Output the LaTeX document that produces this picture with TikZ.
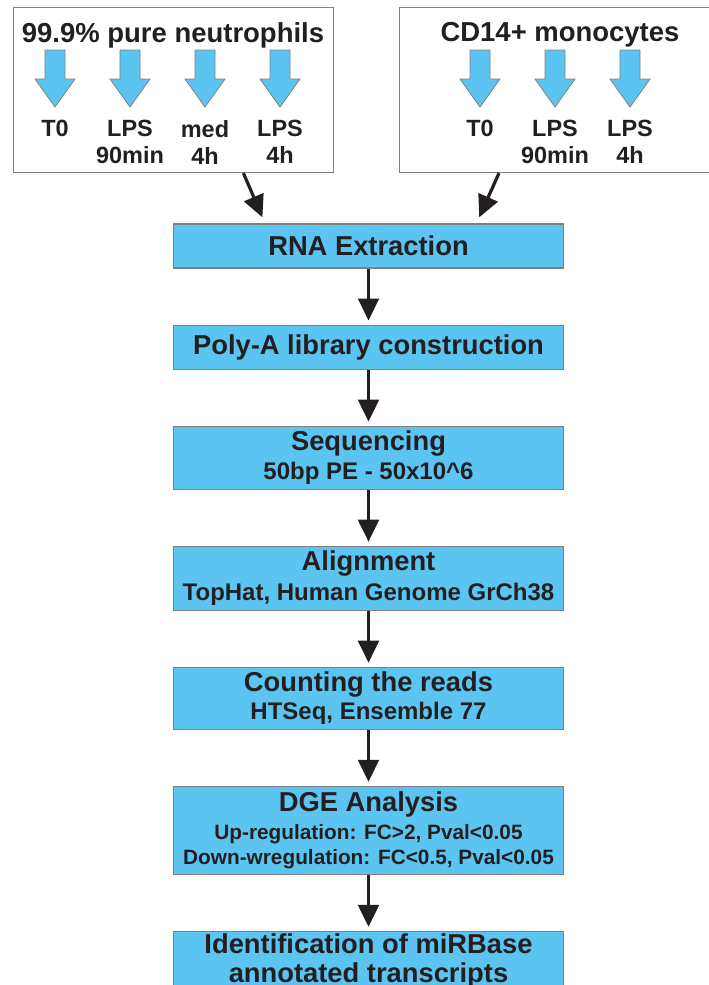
\documentclass[tikz,border=0pt]{standalone}
\usepackage{fontspec}
\setmainfont{Liberation Sans}
\usetikzlibrary{arrows.meta,positioning}
\definecolor{cellblue}{HTML}{5BC4F1}
\definecolor{inkdark}{HTML}{231F20}
\definecolor{edgegray}{HTML}{808080}
\newcommand\subtxt{\fontsize{18}{20}\selectfont}
\newcommand\dgetxt{\fontsize{15.6}{18}\selectfont}

\begin{document}
\begin{tikzpicture}[
x=0.75pt,y=-0.75pt,
node distance=42pt,
group/.style={draw=edgegray,line width=0.8pt,fill=white,anchor=north west,
minimum width=240pt,minimum height=123.75pt,inner sep=0pt},
grouptitle/.style={font=\fontsize{20.6}{24}\selectfont\bfseries,text=inkdark,
anchor=north,inner sep=0pt},
cond/.style={font=\fontsize{17.6}{20.25}\selectfont\bfseries,text=inkdark,
align=center,anchor=north,inner sep=0pt},
proc/.style={draw=edgegray,line width=0.8pt,fill=cellblue,text=inkdark,align=center,
font=\fontsize{20.5}{20}\selectfont\bfseries,
minimum width=293pt,minimum height=33pt,inner sep=0pt},
dep/.style={-{Triangle[width=15.5pt,length=16.5pt]},line width=2.4pt,draw=inkdark,
shorten >=3pt},
cellarrow/.pic={\filldraw[fill=cellblue,draw=edgegray,line width=0.6pt]
(-10,0) -- (10,0) -- (10,29) -- (20,29) -- (0,57) -- (-20,29) -- (-10,29) -- cycle;}
]
\useasboundingbox (0,0) rectangle (709,985);
\clip (0,0) rectangle (709,985);

% cell populations
\node[group] (neut) at (13,7) {};
\node[group] (mono) at (399,7) {};
\node[grouptitle] (neutT) at (173,22) {99.9\% pure neutrophils};
\node[grouptitle] (monoT) at (560,22) {CD14+ monocytes};

\foreach \xpos/\lbl [count=\i] in {55/T0,130/{LPS\\90min},205/{med\\4h},280/{LPS\\4h}}{
  \pic at (\xpos,50) {cellarrow};
  \node[cond] (ncond\i) at (\xpos,120) {\lbl};
}
\foreach \xpos/\lbl [count=\i] in {480/T0,555/{LPS\\90min},630/{LPS\\4h}}{
  \pic at (\xpos,50) {cellarrow};
  \node[cond] (mcond\i) at (\xpos,120) {\lbl};
}

% pipeline
\node[proc] (rna) at (368.5,246) {RNA Extraction};
\node[proc,below=of rna] (polya) {Poly-A library construction};
\node[proc,below=of polya,minimum height=47.25pt] (seq)
  {Sequencing\\[2pt]{\subtxt 50bp PE - 50x10\textasciicircum 6}};
\node[proc,below=of seq,minimum height=48pt] (align)
  {Alignment\\[2pt]{\subtxt TopHat, Human Genome GrCh38}};
\node[proc,below=of align,minimum height=46.5pt] (count)
  {Counting the reads\\[1pt]{\subtxt HTSeq, Ensemble 77}};
\node[proc,below=of count,minimum height=66pt] (dge)
  {DGE Analysis\\[1pt]{\dgetxt Up-regulation: FC>2, Pval<0.05}\\[-1pt]
   {\dgetxt Down-wregulation: FC<0.5, Pval<0.05}};
\node[proc,below=of dge,minimum height=0pt,inner ysep=1.5pt] (mirb)
  {Identification of miRBase\\[2pt]annotated transcripts};

\draw[dep,shorten >=5pt] ([xshift=-68pt]neut.south east) -- ([xshift=-77.6pt]rna.north);
\draw[dep,shorten >=5pt] ([xshift=75pt]mono.south west) -- ([xshift=81pt]rna.north);
\draw[dep] (rna) -- (polya);
\draw[dep] (polya) -- (seq);
\draw[dep] (seq) -- (align);
\draw[dep] (align) -- (count);
\draw[dep] (count) -- (dge);
\draw[dep] (dge) -- (mirb);
\end{tikzpicture}
\end{document}
